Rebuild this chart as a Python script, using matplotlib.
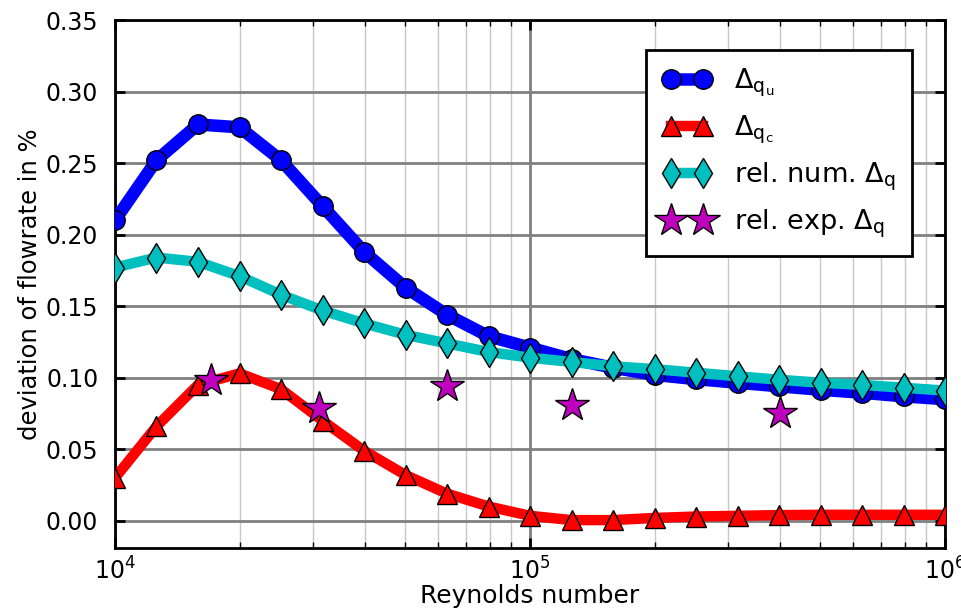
import numpy as np
import matplotlib
matplotlib.use("Agg")
import matplotlib.pyplot as plt
from matplotlib.ticker import LogLocator

# ---- data ----
re_exp = [4.0, 4.1, 4.2, 4.3, 4.4, 4.5, 4.6, 4.7, 4.8, 4.9, 5.0,
          5.1, 5.2, 5.3, 5.4, 5.5, 5.6, 5.7, 5.8, 5.9, 6.0]
reynolds = [10 ** e for e in re_exp]

delta_qu = [0.210, 0.252, 0.277, 0.275, 0.252, 0.220, 0.188, 0.163, 0.144, 0.129, 0.121,
            0.113, 0.107, 0.102, 0.099, 0.0965, 0.094, 0.0916, 0.0895, 0.087, 0.085]
delta_qc = [0.030, 0.066, 0.095, 0.103, 0.092, 0.070, 0.049, 0.032, 0.019, 0.010, 0.0035,
            0.0005, 0.0005, 0.002, 0.003, 0.0035, 0.004, 0.0042, 0.0042, 0.0042, 0.0042]
rel_num = [0.177, 0.184, 0.181, 0.171, 0.158, 0.147, 0.138, 0.130, 0.124, 0.118, 0.114,
           0.111, 0.108, 0.106, 0.1035, 0.101, 0.0986, 0.0965, 0.095, 0.093, 0.091]

re_stars = [1.7e4, 3.1e4, 6.3e4, 1.26e5, 4.0e5]
rel_exp = [0.0985, 0.079, 0.094, 0.081, 0.0755]

labels = [r'$\mathregular{\Delta_{q_u}}$', r'$\mathregular{\Delta_{q_c}}$',
          r'rel. num. $\mathregular{\Delta_q}$', r'rel. exp. $\mathregular{\Delta_q}$']
xlabel = 'Reynolds number'
ylabel = 'deviation of flowrate in %'
yticks = [0.00, 0.05, 0.10, 0.15, 0.20, 0.25, 0.30, 0.35]

plt.rcParams['font.family'] = ['DejaVu Sans']

fig = plt.figure(figsize=(9.61, 6.09), dpi=100)
ax = fig.add_axes([115 / 961, 1 - 548 / 609, 830 / 961, 528 / 609])

ax.plot(reynolds, delta_qu, '-o', color='#0000ff', lw=9, ms=14, mec='k', mew=1,
        label=labels[0], zorder=3)
ax.plot(reynolds, delta_qc, '-^', color='#ff0000', lw=7.5, ms=14, mec='k', mew=1,
        label=labels[1], zorder=3)
ax.plot(reynolds, rel_num, '-d', color='#00bfbf', lw=7.5, ms=15, mec='k', mew=1,
        label=labels[2], zorder=4)
ax.plot(re_stars, rel_exp, '*', color='#bf00bf', ls='none', ms=25, mec='k', mew=1,
        label=labels[3], zorder=5)

ax.set_xscale('log')
ax.set_xlim(1e4, 1e6)
ax.set_ylim(-0.019, 0.35)
ax.set_yticks(yticks)
ax.set_yticklabels([f'{v:.2f}' for v in yticks])

ax.xaxis.set_major_locator(LogLocator(base=10, numticks=10))
ax.xaxis.set_minor_locator(LogLocator(base=10, subs=np.arange(2, 10), numticks=20))

ax.grid(True, which='major', axis='both', color='#808080', lw=2, zorder=1)
ax.grid(True, which='minor', axis='x', color='#c8c8c8', lw=1, zorder=1)
ax.set_axisbelow(True)

ax.tick_params(which='major', direction='in', length=7, width=2,
               top=True, right=True)
ax.tick_params(which='minor', direction='in', length=4, width=1, top=True, right=True)
ax.tick_params(axis='x', which='major', labelsize=17, pad=7)
ax.tick_params(axis='y', which='major', labelsize=17, pad=12)
for s in ax.spines.values():
    s.set_linewidth(2)
    s.set_color('k')

ax.set_xlabel(xlabel, fontsize=18, labelpad=-1)
ax.set_ylabel(ylabel, fontsize=17.5, labelpad=3)

leg = ax.legend(loc='upper left', bbox_to_anchor=(0.640, 0.943), borderaxespad=0,
                numpoints=2, fontsize=19.5, fancybox=False, framealpha=1,
                edgecolor='k', handlelength=1.8, labelspacing=0.55,
                borderpad=0.6, handletextpad=0.85)
leg.get_frame().set_linewidth(2)

fig.savefig('out.png', dpi=100)
